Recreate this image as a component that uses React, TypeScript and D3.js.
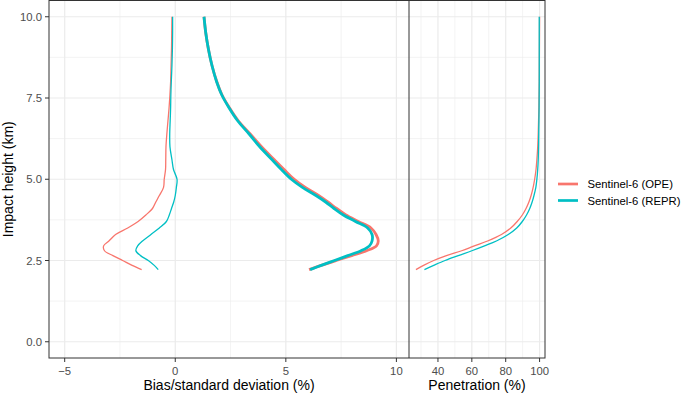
import React, { useEffect, useRef } from "react";
import * as d3 from "d3";

// impact heights (km) shared by every profile
const heights = [
  2.22, 2.35, 2.5, 2.65, 2.8, 2.95, 3.1, 3.3, 3.5, 3.7, 3.9, 4.1, 4.3, 4.5,
  4.75, 5.0, 5.3, 5.6, 6.0, 6.4, 6.8, 7.2, 7.6, 8.0, 8.5, 9.0, 9.5, 10.0,
];

// bias (%)
const biasOPE = [
  -1.52, -1.95, -2.38, -2.82, -3.2, -3.24, -3.0, -2.7, -2.15, -1.68, -1.33,
  -1.03, -0.88, -0.72, -0.53, -0.5, -0.44, -0.43, -0.42, -0.38, -0.33, -0.28,
  -0.24, -0.21, -0.19, -0.17, -0.16, -0.15,
];
const biasREPR = [
  -0.77, -0.95, -1.22, -1.57, -1.78, -1.7, -1.48, -1.1, -0.72, -0.4, -0.27,
  -0.17, -0.07, 0.0, 0.05, 0.08, -0.08, -0.15, -0.24, -0.25, -0.23, -0.21,
  -0.2, -0.18, -0.15, -0.13, -0.12, -0.12,
];

// standard deviation (%)
const sdOPE = [
  6.05, 6.6, 7.28, 7.98, 8.65, 9.1, 9.18, 9.08, 8.85, 8.28, 7.72, 7.3, 6.9,
  6.48, 5.88, 5.38, 4.92, 4.48, 3.9, 3.38, 2.85, 2.45, 2.11, 1.88, 1.66, 1.5,
  1.38, 1.3,
];
const sdREPR = [
  6.1, 6.6, 7.2, 7.8, 8.4, 8.78, 8.9, 8.9, 8.7, 8.15, 7.6, 7.18, 6.8, 6.36,
  5.75, 5.25, 4.8, 4.38, 3.82, 3.33, 2.82, 2.43, 2.1, 1.87, 1.66, 1.5, 1.38,
  1.3,
];

// penetration (%)
const penOPE = [
  27, 31.5, 37.5, 45, 54, 61.5, 69.3, 77.5, 83, 86.8, 89.8, 92, 93.7, 95,
  96.2, 97.1, 97.9, 98.4, 98.9, 99.2, 99.4, 99.6, 99.7, 99.8, 99.85, 99.9,
  99.95, 100,
];
const penREPR = [
  32, 37.5, 44.2, 52, 60, 67.5, 74.5, 81.5, 86.5, 89.8, 92.3, 94.2, 95.6,
  96.7, 97.8, 98.4, 98.9, 99.2, 99.4, 99.5, 99.6, 99.7, 99.75, 99.8, 99.8,
  99.8, 99.8, 99.8,
];

const seriesNames = ["Sentinel-6 (OPE)", "Sentinel-6 (REPR)"];
const seriesColors = ["#F8766D", "#00BFC4"];

const leftTicks = [-5, 0, 5, 10];
const leftMinor = [-2.5, 2.5, 7.5];
const rightTicks = [40, 60, 80, 100];
const rightMinor = [30, 50, 70, 90];
const yTicks = [0, 2.5, 5, 7.5, 10];
const yMinor = [1.25, 3.75, 6.25, 8.75];

const App = () => {
  const svgRef = useRef(null);

  useEffect(() => {
    const width = 684;
    const height = 394;
    const font = "'Liberation Sans', Arial, Helvetica, sans-serif";

    const svg = d3.select(svgRef.current);
    svg.selectAll("*").remove();
    svg.attr("width", width).attr("height", height);

    const top = 0.5;
    const bottom = 358;
    const leftX0 = 49;
    const leftX1 = 409;
    const rightX1 = 545;

    const y = d3.scaleLinear().domain([-0.5, 10.5]).range([bottom, top]);
    const xL = d3.scaleLinear().domain([-5.71, 10.57]).range([leftX0, leftX1]);
    const xR = d3.scaleLinear().domain([22.9, 103.2]).range([leftX1, rightX1]);

    const panels = [
      { x0: leftX0, x1: leftX1, scale: xL, ticks: leftTicks, minor: leftMinor },
      { x0: leftX1, x1: rightX1, scale: xR, ticks: rightTicks, minor: rightMinor },
    ];

    panels.forEach((p) => {
      const g = svg.append("g");
      g.append("rect")
        .attr("x", p.x0).attr("y", top)
        .attr("width", p.x1 - p.x0).attr("height", bottom - top)
        .attr("fill", "white");

      // minor grid
      g.selectAll(".hmin").data(yMinor).enter().append("line")
        .attr("x1", p.x0).attr("x2", p.x1)
        .attr("y1", (d) => y(d)).attr("y2", (d) => y(d))
        .attr("stroke", "#EBEBEB").attr("stroke-width", 0.6);
      g.selectAll(".vmin").data(p.minor).enter().append("line")
        .attr("y1", top).attr("y2", bottom)
        .attr("x1", (d) => p.scale(d)).attr("x2", (d) => p.scale(d))
        .attr("stroke", "#EBEBEB").attr("stroke-width", 0.6);
      // major grid
      g.selectAll(".hmaj").data(yTicks).enter().append("line")
        .attr("x1", p.x0).attr("x2", p.x1)
        .attr("y1", (d) => y(d)).attr("y2", (d) => y(d))
        .attr("stroke", "#EBEBEB").attr("stroke-width", 1.2);
      g.selectAll(".vmaj").data(p.ticks).enter().append("line")
        .attr("y1", top).attr("y2", bottom)
        .attr("x1", (d) => p.scale(d)).attr("x2", (d) => p.scale(d))
        .attr("stroke", "#EBEBEB").attr("stroke-width", 1.2);

      // x axis ticks + labels
      g.selectAll(".xt").data(p.ticks).enter().append("line")
        .attr("x1", (d) => p.scale(d)).attr("x2", (d) => p.scale(d))
        .attr("y1", bottom).attr("y2", bottom + 4)
        .attr("stroke", "#333333").attr("stroke-width", 1);
      g.selectAll(".xl").data(p.ticks).enter().append("text")
        .attr("x", (d) => p.scale(d)).attr("y", bottom + 16.5)
        .attr("text-anchor", "middle")
        .attr("font-family", font).attr("font-size", 11.3)
        .attr("fill", "#4D4D4D")
        .text((d) => d3.format("d")(d));
    });

    const line = (scale, vals) =>
      d3.line()
        .x((d) => scale(d))
        .y((d, i) => y(heights[i]))
        .curve(d3.curveCatmullRom.alpha(0.5))(vals);

    const clipL = svg.append("clipPath").attr("id", "clipL");
    clipL.append("rect").attr("x", leftX0).attr("y", top)
      .attr("width", leftX1 - leftX0).attr("height", bottom - top);

    const lp = svg.append("g").attr("clip-path", "url(#clipL)");
    [sdOPE, sdREPR].forEach((vals, i) => {
      lp.append("path").attr("d", line(xL, vals))
        .attr("fill", "none").attr("stroke", seriesColors[i])
        .attr("stroke-width", 2.8).attr("stroke-linejoin", "round");
    });
    [biasOPE, biasREPR].forEach((vals, i) => {
      lp.append("path").attr("d", line(xL, vals))
        .attr("fill", "none").attr("stroke", seriesColors[i])
        .attr("stroke-width", 1.3).attr("stroke-linejoin", "round");
    });

    const rp = svg.append("g");
    [penOPE, penREPR].forEach((vals, i) => {
      rp.append("path").attr("d", line(xR, vals))
        .attr("fill", "none").attr("stroke", seriesColors[i])
        .attr("stroke-width", 1.3).attr("stroke-linejoin", "round");
    });

    // panel borders
    svg.append("rect")
      .attr("x", leftX0).attr("y", top)
      .attr("width", rightX1 - leftX0).attr("height", bottom - top)
      .attr("fill", "none").attr("stroke", "#333333").attr("stroke-width", 1);
    svg.append("line")
      .attr("x1", leftX1).attr("x2", leftX1).attr("y1", top).attr("y2", bottom)
      .attr("stroke", "#333333").attr("stroke-width", 1);

    // y axis
    svg.selectAll(".yt").data(yTicks).enter().append("line")
      .attr("x1", leftX0 - 4).attr("x2", leftX0)
      .attr("y1", (d) => y(d)).attr("y2", (d) => y(d))
      .attr("stroke", "#333333").attr("stroke-width", 1);
    svg.selectAll(".yl").data(yTicks).enter().append("text")
      .attr("x", leftX0 - 7).attr("y", (d) => y(d) + 4)
      .attr("text-anchor", "end")
      .attr("font-family", font).attr("font-size", 11.3)
      .attr("fill", "#4D4D4D")
      .text((d) => d3.format(".1f")(d));

    // axis titles
    svg.append("text")
      .attr("transform", `translate(13,${(top + bottom) / 2}) rotate(-90)`)
      .attr("text-anchor", "middle")
      .attr("font-family", font).attr("font-size", 14)
      .attr("fill", "black")
      .text("Impact height (km)");
    svg.append("text")
      .attr("x", (leftX0 + leftX1) / 2).attr("y", 390)
      .attr("text-anchor", "middle")
      .attr("font-family", font).attr("font-size", 14)
      .text("Bias/standard deviation (%)");
    svg.append("text")
      .attr("x", (leftX1 + rightX1) / 2).attr("y", 390)
      .attr("text-anchor", "middle")
      .attr("font-family", font).attr("font-size", 14)
      .text("Penetration (%)");

    // legend
    const legend = svg.append("g")
      .selectAll("g")
      .data(seriesNames)
      .enter()
      .append("g")
      .attr("transform", (d, i) => `translate(558,${184 + i * 16.5})`);
    legend.append("line")
      .attr("x1", 0).attr("x2", 20).attr("y1", 0).attr("y2", 0)
      .attr("stroke", (d, i) => seriesColors[i])
      .attr("stroke-width", 2.7);
    legend.append("text")
      .attr("x", 29.5).attr("y", 4)
      .attr("font-family", font).attr("font-size", 11.3)
      .attr("fill", "black")
      .text((d) => d);
  }, []);

  return (
    <svg
      ref={svgRef}
      style={{ position: "absolute", left: 0, top: 0, display: "block" }}
    ></svg>
  );
};

export default App;
